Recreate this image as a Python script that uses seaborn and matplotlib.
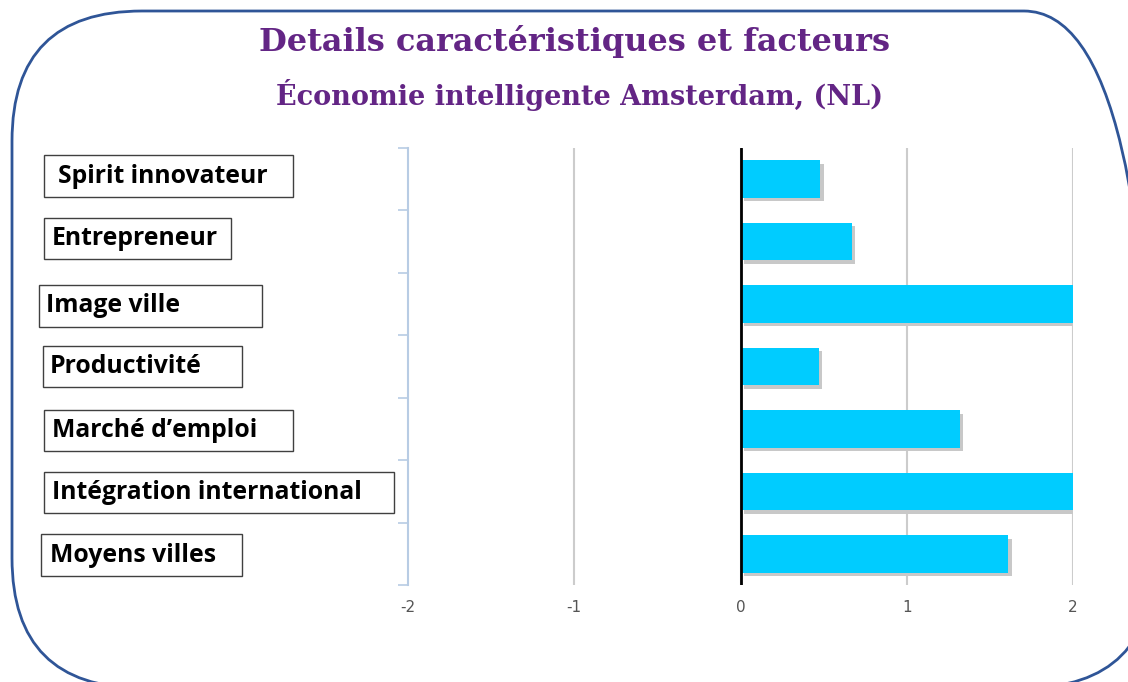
import numpy as np
import pandas as pd
import matplotlib
matplotlib.use('Agg')
import matplotlib.pyplot as plt
import matplotlib.patheffects as pe
from matplotlib.patches import FancyBboxPatch, Rectangle
import matplotlib.transforms as mtransforms
import seaborn as sns

# DATOS
categories = ["Spirit innovateur", "Entrepreneur", "Image ville", "Productivité",
              "Marché d’emploi", "Intégration international", "Moyens villes"]
values = [0.48, 0.67, 2.0, 0.47, 1.32, 2.0, 1.61]
x_ticks = [-2, -1, 0, 1, 2]
title = "Details caractéristiques et facteurs"
subtitle = "Économie intelligente Amsterdam, (NL)"

# cajas de etiquetas (px: izquierda, derecha, inicio del texto, desplazamiento vertical)
label_boxes = [(44, 293, 58, -0.05), (44, 231, 52, -0.05), (39, 262, 46, 0.03), (43, 242, 50, 0.0),
               (44, 293, 52, 0.03), (44, 394, 52, 0.02), (41, 242, 50, 0.02)]

W, H = 1128, 682
BAR_COLOR = "#00CCFF"
PURPLE = "#632585"
FRAME = "#2F5597"

sns.set_style("white")
plt.rcParams['font.family'] = ['DejaVu Sans']

fig = plt.figure(figsize=(W / 100, H / 100), dpi=100)
ax = fig.add_axes([408 / W, 1 - 585 / H, 665 / W, 437 / H])

df = pd.DataFrame({"cat": categories, "val": values})
sns.barplot(data=df, x="val", y="cat", order=categories, orient="h",
            color=BAR_COLOR, saturation=1, width=0.6, ax=ax, zorder=3)

for bar in ax.patches:
    bar.set_edgecolor("none")
    bar.set_path_effects([pe.SimplePatchShadow(offset=(2.5, -2.5), shadow_rgbFace="#C8C8C8", alpha=1),
                          pe.Normal()])

ax.set_xlim(-2, 2)
ax.set_ylim(len(categories) - 0.5, -0.5)
ax.set_xticks(x_ticks)
ax.set_xticklabels([str(t) for t in x_ticks], color="#555555", fontsize=11)
ax.tick_params(axis="x", length=0, pad=11)
ax.grid(False)
for t in x_ticks[1:]:
    ax.axvline(t, color="#CCCCCC", lw=1.5, zorder=1)
ax.axvline(0, color="black", lw=2, zorder=4)

# eje Y: marcas en los límites de categoría
ax.set_yticks(np.arange(len(categories) + 1) - 0.5)
ax.set_yticklabels([])
ax.tick_params(axis="y", left=True, length=7, width=1.2, color="#B8CCE4", direction="out")
ax.set_ylabel("")
ax.set_xlabel("")
for s in ["top", "right", "bottom"]:
    ax.spines[s].set_visible(False)
ax.spines["left"].set_color("#B8CCE4")
ax.spines["left"].set_linewidth(1.5)

# etiquetas en cajas
trans = mtransforms.blended_transform_factory(fig.transFigure, ax.transData)
for i, (cat, (x0, x1, xt, dy)) in enumerate(zip(categories, label_boxes)):
    rect = Rectangle((x0 / W, i + dy - 0.33), (x1 - x0) / W, 0.66, transform=trans,
                     facecolor="white", edgecolor="#404040", lw=1.0, clip_on=False)
    fig.add_artist(rect)
    fig.text(xt / W, i + dy, cat, transform=trans, ha="left", va="center",
             fontsize=17.8, fontweight="bold", family="Open Sans", color="black")

# títulos
fig.text(575 / W, 1 - 42 / H, title, ha="center", va="center", fontsize=23,
         fontweight="bold", family="DejaVu Serif", color=PURPLE)
fig.text(580 / W, 1 - 95 / H, subtitle, ha="center", va="center", fontsize=19.5,
         fontweight="bold", family="DejaVu Serif", color=PURPLE)

# marco redondeado
frame = FancyBboxPatch((0.12, -0.06), 11.42, 6.77,
                       boxstyle="round,pad=0,rounding_size=1.3",
                       transform=fig.dpi_scale_trans, facecolor="none",
                       edgecolor=FRAME, lw=2, clip_on=False)
fig.add_artist(frame)

fig.savefig("out.png", dpi=100)
plt.close()
